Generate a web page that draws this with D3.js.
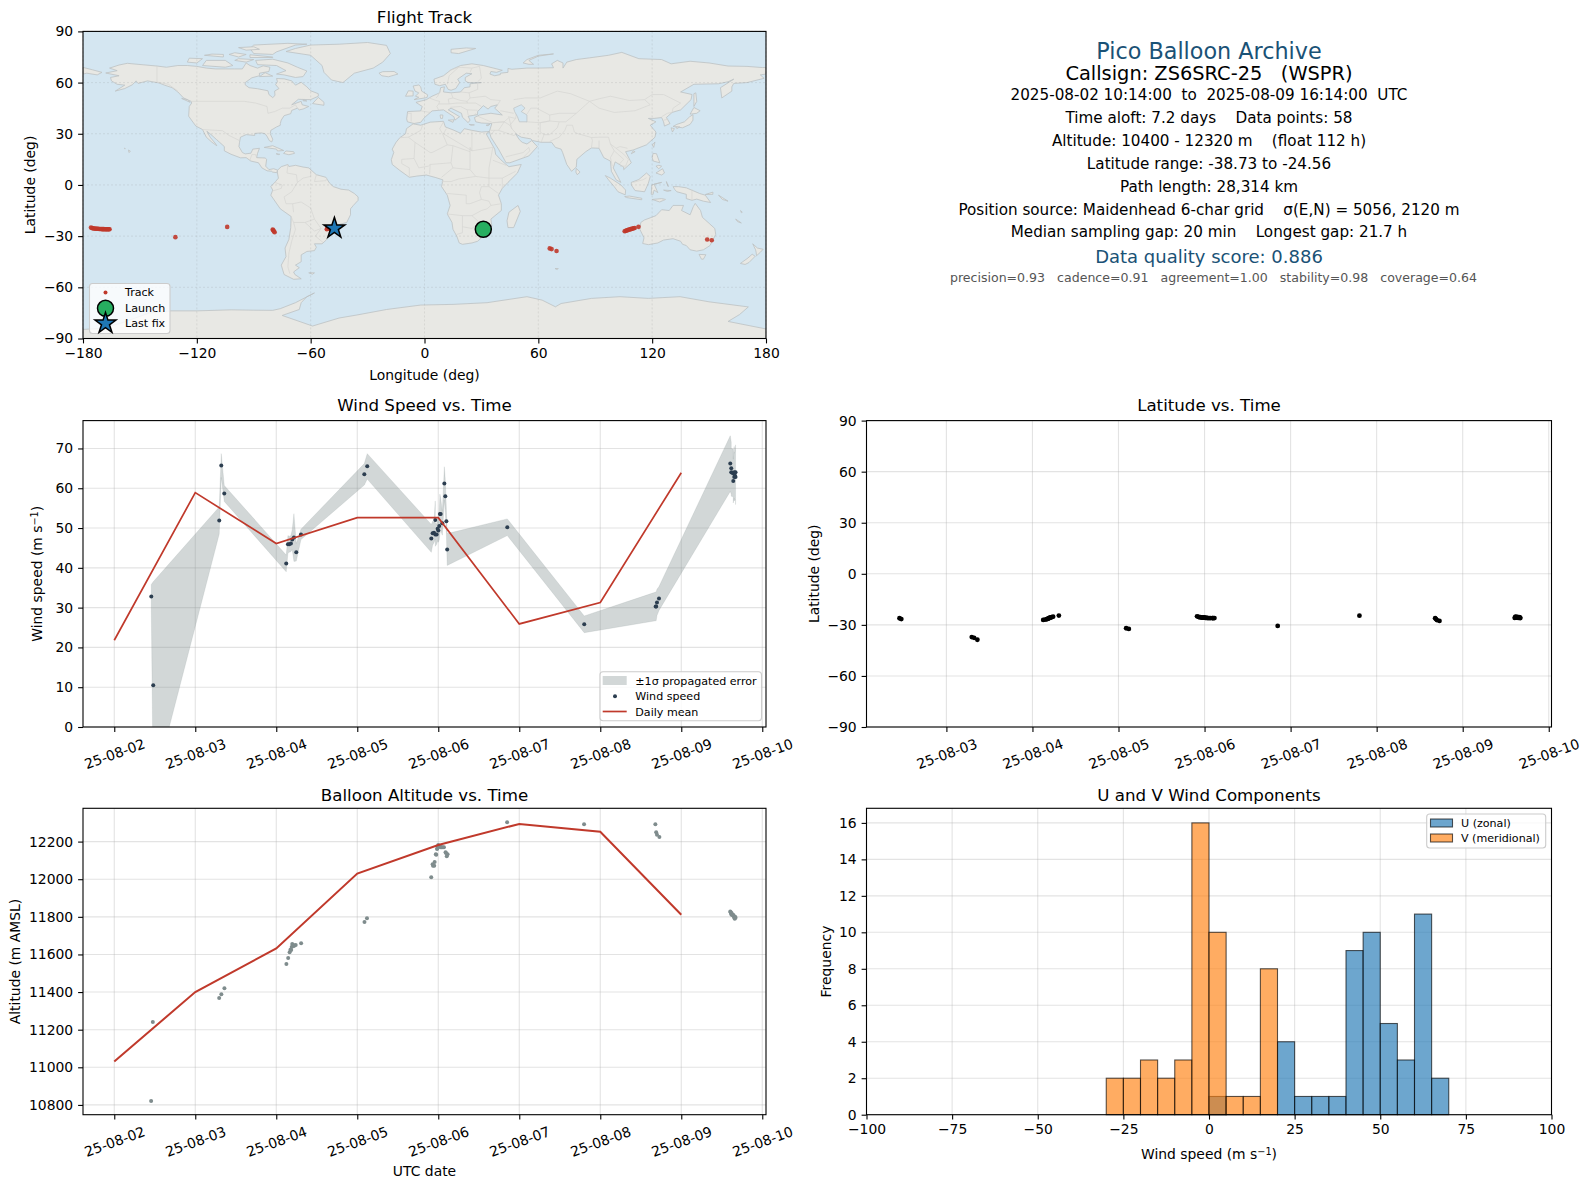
<!DOCTYPE html>
<html>
<head>
<meta charset="utf-8">
<script src="https://cdn.jsdelivr.net/npm/d3@7"></script>
<style>
html, body { margin: 0; padding: 0; background: #fff; }
svg { display: block; }
text { font-family: "DejaVu Sans", sans-serif; fill: #000; }
</style>
</head>
<body>
<svg id="chart" width="1589" height="1189"></svg>
<script>
// track fixes, days after 2025-08-02 00:00 UTC
const trackDays = [0.455,0.476,1.295,1.322,1.36,2.125,2.147,2.165,2.175,2.184,2.19,2.197,2.205,2.215,2.225,2.24,2.307,3.089,3.12,
  3.913,3.93,3.935,3.95,3.955,3.97,3.975,3.985,3.99,3.995,4.0,4.01,4.02,4.03,4.04,4.055,4.07,4.09,4.095,4.105,4.115,
  4.85,5.8,6.68,6.69,6.7,6.73,7.605,7.61,7.615,7.62,7.625,7.635,7.645,7.65,7.655,7.66,7.665,7.67];
const trackAlt = [10821,11241,11368,11389,11420,11549,11581,11612,11625,11623,11640,11655,11650,11645,11648,11650,11660,11772,11793,
  12011,12080,12071,12071,12092,12133,12130,12160,12165,12172,12182,12175,12175,12170,12170,12170,12170,12144,12140,12122,12133,
  12303,12292,12292,12250,12236,12224,11828,11825,11815,11820,11810,11812,11808,11800,11795,11790,11800,11795];
const trackLat = [-26.1,-26.6,-37.2,-37.6,-38.73,-27.1,-26.9,-26.7,-26.5,-26.3,-26.1,-25.9,-25.8,-25.6,-25.4,-25.2,-24.56,-32,-32.4,
  -25,-25.3,-25.4,-25.5,-25.6,-25.7,-25.7,-25.7,-25.8,-25.8,-25.8,-25.9,-25.9,-25.9,-26,-26,-26,-26,-26,-26,-26,
  -30.6,-24.6,-26.1,-26.6,-27.2,-27.7,-25.9,-25.5,-25.2,-25.4,-25.7,-25.3,-25.9,-25.6,-25.4,-25.9,-25.6,-26];
const trackLon = [31,32,66,67,69.6,105.5,106,106.6,107,107.6,108,108.6,109,109.6,110.2,110.8,112.8,149,151.4,
  -175.8,-175.2,-174.7,-174.2,-173.6,-173,-172.5,-172,-171.5,-171,-170.5,-170,-169.5,-169,-168.5,-168,-167.7,-167.2,-166.8,-166.4,-166,
  -131.3,-104,-80,-79.7,-79.4,-79,-51.5,-51.2,-50.8,-50.5,-50.1,-49.8,-49.4,-49.1,-48.8,-48.5,-48.2,-47.8];

// wind samples
const windDays = [0.457,0.481,1.296,1.321,1.358,2.123,2.144,2.16,2.181,2.197,2.218,2.247,2.305,3.087,3.123,
  3.914,3.93,3.947,3.963,3.963,3.98,3.992,4.0,4.012,4.02,4.03,4.05,4.075,4.087,4.1,4.11,
  4.852,5.802,6.684,6.69,6.7,6.725,
  7.605,7.617,7.617,7.63,7.642,7.642,7.654,7.654,7.662,7.67,7.67];
const windSpeed = [32.8,10.5,51.9,65.7,58.7,41.1,45.9,45.9,46.1,47.1,47.6,43.9,48.4,63.5,65.5,
  47.4,48.7,48.8,52,48.4,48.4,49.8,49.4,50.5,53.5,53.5,51.2,61.2,58,51.7,44.6,
  50.2,25.8,30.3,30.3,31.3,32.3,
  66.2,65,64,63.9,63.8,61.8,64,62.8,63.2,64,62.8];
const windErr = [3,26,3.4,3,2,2.1,2.2,2,2,2.5,6,2.2,1.3,2.7,3.2,
  3.5,3,2.5,4.8,3,2.5,3,3,3.5,5,4,3,4.2,4,3,4,
  2.1,2.1,3.6,3.6,3.3,3,
  7,6.5,6,6,6,5.5,6.5,6,6,6.9,6.9];

// daily means
const meanDays = [0,1,2,3,4,5,6,7];
const meanWind = [21.8,58.9,46.1,52.6,52.6,25.9,31.3,63.9];
const meanAlt = [11031,11400,11632,12030,12182,12294,12252,11811];

// histogram counts per 5 m/s bin
const binEdges = d3.range(-30, 75, 5);
const uCounts = [0,0,0,0,0,0,1,0,0,0,4,1,1,1,9,10,5,3,11,2];
const vCounts = [2,2,3,2,3,16,10,1,1,8,0,0,0,0,0,0,0,0,0,0];

// tick values
const lonTicks = [-180,-120,-60,0,60,120,180];
const latTicks = [-90,-60,-30,0,30,60,90];
const windTicks = [0,10,20,30,40,50,60,70];
const altTicks = [10800,11000,11200,11400,11600,11800,12000,12200];
const histXTicks = [-100,-75,-50,-25,0,25,50,75,100];
const histYTicks = [0,2,4,6,8,10,12,14,16];

// markers on the map
const launchPos = [31,-26];
const lastFixPos = [-47.5,-25.4];

// summary text
const summaryLines = [
  ["Pico Balloon Archive", 22.3, "#1a5276"],
  ["Callsign: ZS6SRC-25   (WSPR)", 19.4, "#000"],
  ["2025-08-02 10:14:00  to  2025-08-09 16:14:00  UTC", 15.2, "#000"],
  ["Time aloft: 7.2 days    Data points: 58", 15.2, "#000"],
  ["Altitude: 10400 - 12320 m    (float 112 h)", 15.2, "#000"],
  ["Latitude range: -38.73 to -24.56", 15.2, "#000"],
  ["Path length: 28,314 km", 15.2, "#000"],
  ["Position source: Maidenhead 6-char grid    σ(E,N) = 5056, 2120 m", 15.2, "#000"],
  ["Median sampling gap: 20 min    Longest gap: 21.7 h", 15.2, "#000"],
  ["Data quality score: 0.886", 18, "#1a5276"],
  ["precision=0.93   cadence=0.91   agreement=1.00   stability=0.98   coverage=0.64", 12.57, "#555"]
];
const summaryY = [50.7,73,94.2,117.6,140.9,163.2,186.5,209.8,232,256.4,277.7];
const summaryX = [1209,1209,1209,1209,1209,1209,1209,1209,1209,1209,1213.5];

// coastlines, lon/lat
const landPolygons = [
  // North America
  [[-156.6,71.3],[-152,70.8],[-148,70.4],[-141,69.7],[-136,69],[-130,70],[-125,70],[-120,69.5],[-115,68.5],[-110,68],[-105,68],[-100,68],[-96,68],[-94,71.5],[-92,70],[-88,68.5],[-85,69.8],[-81.5,69],[-82,66.5],[-87,65.5],[-87,64],[-91,62.8],[-94.5,60],[-94.5,58.7],[-92.5,57],[-88,56.4],[-82.5,55.2],[-82,53],[-80,51.2],[-78.8,52.5],[-79,55],[-76.7,56.5],[-78.5,58.8],[-77.5,60.5],[-78,62.4],[-74,62.2],[-70,61],[-68,58.5],[-65,60.2],[-62,57.5],[-60,55.2],[-56,53.5],[-56,52],[-60,50],[-66.5,50.2],[-70,47],[-65,49],[-64.5,47],[-61,46],[-64,44.5],[-66,44],[-67,45],[-70,43.7],[-70.5,41.8],[-74,40.6],[-75.5,38],[-76,36],[-76,35],[-78,34],[-81,32],[-81.3,30],[-80,26.8],[-80.5,25.2],[-81.8,26],[-83,28.5],[-84,30],[-86,30.5],[-89.5,30.2],[-89.5,29],[-94,29.5],[-97,28],[-97.5,25],[-97.8,22.5],[-96,19],[-94.5,18.2],[-91.5,18.6],[-90.5,21],[-87,21.5],[-88,18.5],[-88.5,16],[-84,15.8],[-83.2,15],[-83.7,11],[-82,9],[-79.5,9.5],[-77.4,8.7],[-77.9,7.2],[-80,7.5],[-80.5,8],[-83,8.3],[-85.7,10],[-87.5,13],[-91.5,14],[-94,16],[-97,15.9],[-102,18],[-105.5,20],[-105.5,22.5],[-108,25],[-109.5,26.5],[-112.5,29.5],[-114.7,31.5],[-113,28],[-110,24],[-109.5,23],[-112,25],[-115,28],[-117,32.5],[-120.5,34.5],[-122.5,37.5],[-124.3,40.3],[-124,46],[-122.7,48],[-123,49],[-127,51],[-130,54.5],[-133,57],[-137,58.5],[-140,59.8],[-146,61],[-151,59.5],[-152,61],[-154,58.7],[-158,56.5],[-163,55],[-158,58.5],[-162,59],[-165,61],[-165.5,63],[-161,64],[-168,65.6],[-162,67],[-166,68.5],[-161,70.3]],
  // South America
  [[-77.5,8.6],[-75.5,10.7],[-72,12],[-71.5,10.8],[-68,11.5],[-64,10.5],[-61,10],[-57,6],[-52,4.5],[-50,1],[-48,-1],[-44,-2.5],[-40,-3],[-37,-5],[-35,-7],[-35,-9],[-37.5,-12],[-39,-14],[-39,-17.5],[-41,-22],[-44.5,-23],[-48.5,-26],[-48.7,-28.5],[-52,-32.5],[-54,-34.5],[-58,-34.5],[-57,-36.5],[-58,-38.5],[-62,-39],[-65,-41],[-65,-45],[-68,-47],[-66,-48.5],[-69,-51],[-68.3,-52.5],[-65,-55],[-69,-55.3],[-74,-52.5],[-75.5,-47],[-73,-42],[-73.5,-37],[-71.5,-32],[-70.5,-25],[-70.3,-18.5],[-76,-14],[-81,-6],[-80,-3],[-81,-1],[-78.5,2],[-77,4],[-77.5,7]],
  // Africa
  [[-6,35.8],[-2,35],[3,36.8],[10,37.3],[11,34],[15,32.3],[19,30.3],[21,33],[25,32],[30,31],[32.5,31.2],[34.2,31.3],[32.5,30],[34,27],[37,21],[37.5,18],[40,15],[43,12],[44.5,10.7],[51,12],[49,7],[44,1.5],[41,-2],[39,-6],[40.5,-11],[40.5,-15],[35,-20],[35.5,-24],[32.8,-26],[32.5,-28.5],[28,-33],[25,-34],[20,-34.8],[18.3,-34],[17,-30],[15,-26],[14.5,-22],[12,-17],[13.5,-12],[12,-6],[9,-1],[9.7,3],[6,4.3],[1,5.8],[-4,5.2],[-8,4.5],[-13,8.5],[-17,12],[-17.5,14.8],[-16.2,19],[-17,21],[-15,25],[-13,27.7],[-10,30],[-9.5,33]],
  // Eurasia
  [[-9,37],[-9.4,38.7],[-8.9,43],[-2,43.4],[-1.2,46],[-4.5,48.4],[1,50],[4,52],[8,54],[8.5,57],[10.5,57.5],[10,54.5],[14,54],[19,54.5],[21,57],[24,57.5],[24,59.3],[30,60],[23,60],[21.5,61],[21.5,63],[25,65.2],[22,65.5],[17.5,62],[18.5,60],[16.5,56.5],[14,55.5],[12.5,56],[11,59],[8,58.2],[5.5,59],[5,62],[10,64],[14,67.5],[19,70],[25,71],[31,70],[41,67.2],[38,66],[35,66.5],[34.5,65],[37,64],[40,64.7],[40,65.5],[44,66],[44,68.3],[46,67.8],[54,68.5],[60,68.5],[68,68.7],[67,71],[70,73],[73,71.5],[73,68.5],[75,72],[80,73.5],[87,74.5],[97,76],[104,77.7],[113,74],[125,73.5],[130,71],[140,72.5],[150,71.5],[160,69.7],[170,69.5],[178,68.8],[180,68.9],[180,65],[177,64.5],[179,62.5],[170,60],[163,59.5],[162,57.5],[162,55],[156.7,51],[156,57],[163,62],[160,60.5],[155,59.3],[142,59],[135,54.5],[141,53],[140.5,50],[135,44],[130.5,42.5],[127.5,39.5],[129.4,36],[126.5,34.5],[126,37],[125,39.5],[121,39],[118,39],[122,37],[119,35],[122,31],[121.5,28],[117,23.5],[110,20.5],[106,19.5],[109,13],[105,9],[105,10.5],[100.5,13.5],[99.5,10],[103.5,1.5],[101,3],[98.5,8],[98,14],[94.5,16],[92,21.5],[88,21.7],[85,19.5],[80.3,15],[80,10.5],[77.5,8],[75,12],[72.8,19],[72,21],[69,22],[67,25],[61.5,25],[57,26],[56,27],[51,28],[48,30],[50,26.5],[51.5,25],[54,24],[56.5,26],[59.5,22.5],[55,17],[45,13],[43,13],[39,21],[35,28],[34.2,31.3],[35.5,36],[30,36.3],[27,37],[26.3,39.5],[29,41],[35,42],[41,41],[37,45],[38.5,47],[35,46],[33.5,44.5],[31,46.5],[28,43],[28,41.3],[26,40.8],[23,40.3],[24,38],[23,36.5],[20,39.7],[19.5,42],[14,45],[12.5,44],[18.5,40],[16,38],[15.5,40],[10,44],[4,43.4],[0,39.5],[-2,36.7],[-5.5,36]],
  // Chukotka past the date line
  [[-180,68.9],[-175,67.5],[-170,66],[-172.5,64.5],[-178,65.5],[-180,65]],
  // Greenland
  [[-73,78.2],[-68,80],[-60,82],[-45,82.5],[-30,83.5],[-20,81.8],[-18,77],[-22,72],[-27,68.5],[-37,65.5],[-43,60],[-49,61.5],[-53,66],[-54,70],[-60,76]],
  // Antarctica
  [[-180,-84.7],[-170,-84],[-160,-81],[-150,-77],[-145,-75],[-134,-73.8],[-120,-73.8],[-102,-73.2],[-90,-73.4],[-80,-73.5],[-76,-72.5],[-68,-69],[-58,-63.3],[-62,-65.5],[-65,-69],[-66,-73],[-75,-76.5],[-59,-82.7],[-45,-78],[-36,-76.3],[-20,-73],[-2,-70.4],[15,-70],[33,-69],[54,-65.5],[62,-67.5],[69,-71.4],[72,-69.5],[88,-66.5],[103,-65.5],[118,-66.5],[134.7,-65.5],[150,-68.5],[170.7,-71.5],[166,-76],[160,-80],[180,-84.4],[180,-90],[-180,-90]],
  // Australia and neighbours
  [[114,-22],[116,-20.5],[122,-18],[125,-14.5],[129,-15],[131,-12],[136.5,-12],[135.5,-15],[140,-17.5],[141.7,-12.7],[142.7,-10.8],[145.5,-15],[146.5,-19],[150,-22.5],[153,-25.5],[153.5,-29],[150.5,-35.5],[147,-38],[143.5,-38.8],[140,-38],[138,-35.5],[136,-34.8],[135,-33],[131,-31.5],[126,-32.3],[123,-34],[118,-35],[115,-34.3],[115.7,-31],[113.5,-26]],
  [[144.7,-40.7],[148.3,-40.9],[147,-43.5],[146,-43.5]],
  [[173,-34.5],[175.5,-37],[178.5,-37.7],[177,-39.5],[175,-41.5],[174.8,-39.5],[174.5,-38]],
  [[172.7,-40.6],[174.3,-41.8],[171,-45.5],[169,-46.6],[166.5,-46],[170.5,-42.8]],
  [[131,-1],[134,-1],[138,-1.7],[145,-5],[148,-6],[150.8,-10.3],[147,-9.5],[143.5,-8.3],[141,-9],[138,-8],[138,-5.5],[133,-4],[132,-2.8]],
  // Southeast Asia
  [[109,1.5],[113,3.2],[117,7],[119,5],[118,1],[116,-4],[111,-3.3],[109,0]],
  [[95.3,5.5],[98,4],[103.5,0],[106,-3],[105.8,-5.8],[102,-4],[100,-1],[97,3]],
  [[105.5,-6.8],[108,-6.5],[114.5,-7.8],[114.5,-8.7],[106.5,-7.4]],
  [[119.5,-5.5],[119.8,0],[125,1.5],[121,0.5],[123,-4.5],[121,-3],[120.5,-5.5]],
  [[120.5,18.5],[122.3,18.3],[124,13],[120.6,14],[120,16]],
  [[122,7],[125.5,9.5],[126.5,7],[125,5.8]],
  [[122,11],[123.5,11.5],[125,11],[123.5,9.5]],
  [[120,-8.5],[125,-8],[127,-8.5],[124,-10]],
  [[127.5,2],[128.5,-1],[127.7,1]],
  [[126,-3],[130,-3.3],[128,-3.8]],
  [[148,-5.6],[152,-4.2],[152,-5.5]],
  [[155,-6],[160,-9.5],[157,-8.5]],
  [[164,-20],[167,-22.3],[165,-21.5]],
  [[166.6,-15],[167.5,-16],[167,-16.3]],
  [[80,9.7],[82,7.5],[80.5,6],[79.8,7.5]],
  [[121.5,25.2],[120.8,22],[120.1,23.5]],
  [[110,20],[111,19.5],[109,18.3]],
  // Japan and Sakhalin
  [[131,34.3],[136,33.5],[140,35.5],[141.5,38],[141.5,41.2],[139.8,40],[137,37],[133,35.5]],
  [[140,41.5],[143.5,42],[145.3,43.5],[142,45.4]],
  [[130,33.5],[131.7,33],[130.7,31]],
  [[132.5,34],[134.5,34],[133,33]],
  [[142,46],[143.5,49],[143,54],[142,53.5],[142,49]],
  // Atlantic and Europe islands
  [[-24,65.5],[-22,66.4],[-16,66.5],[-14,65],[-19,63.4],[-22.5,64]],
  [[-5.5,50],[1.3,51.2],[1.7,52.8],[-1.5,55],[-2,57.5],[-3,58.6],[-6,58],[-5,55],[-3,54],[-4.8,52],[-3,51.4]],
  [[-10,52],[-6,52.2],[-6,55],[-8.5,55.2]],
  [[12.5,38],[15.5,38.2],[15,36.7]],
  [[8.2,41],[9.7,41],[9.5,39],[8.5,39]],
  [[23.5,35.5],[26.3,35.2],[24.5,35]],
  [[32.5,35],[34.5,35.6],[33.5,34.7]],
  [[14,79.5],[22,80.3],[27,80],[18,77],[14,77.5]],
  [[52,71.5],[55,70.7],[57.5,70.7],[55,73],[60,75.5],[68,76.8],[60,76],[54,73.5]],
  [[49.3,-12],[50.5,-15.5],[47,-25],[44,-25],[43.5,-21],[44.5,-16]],
  // Canadian Arctic
  [[-80,73.7],[-72,71.5],[-67,69],[-62,66.8],[-64,63.5],[-68,63],[-74,64.5],[-78,65],[-73,67],[-78,70],[-88,70.5],[-89,73]],
  [[-117,70],[-105,69],[-101,70],[-105,73],[-115,73]],
  [[-125,72],[-120,71.5],[-117,74],[-124,74.3]],
  [[-90,77],[-80,76.5],[-78,78],[-68,82],[-62,82.5],[-72,83],[-90,82],[-92,80]],
  [[-92,76.3],[-80,75],[-80,74.7],[-92,74.7]],
  [[-116,76],[-106,75],[-106,76.5],[-112,76.7]],
  [[-98,80.5],[-94,79],[-87,79.5],[-90,81]],
  [[-103,76.5],[-98,75],[-94,76.5],[-100,77.5]],
  [[-98,74],[-90,73.5],[-94,72],[-100,73]],
  [[-87,63.5],[-80,63.8],[-84,65.8]],
  [[-59,47.7],[-53,46.7],[-53,48.5],[-56,51.3]],
  [[-128,50.7],[-123.5,48.4],[-125,50]],
  [[-64,49.9],[-62,49.2],[-64,49.3]],
  // Caribbean and small ones
  [[-84.5,22],[-80,23],[-74.2,20.2],[-77.5,19.9],[-78,21]],
  [[-74.3,18.5],[-73,19.9],[-69,19.5],[-68.5,18.5],[-71.5,17.7]],
  [[-78.2,18.3],[-76.3,18],[-77,17.8]],
  [[-156,20.5],[-155,19.7],[-155.8,19]],
  [[-158.2,21.6],[-157.7,21.3],[-158,21.2]],
  [[-61,-51.5],[-58,-51.5],[-59,-52.3]],
  [[68.8,-49],[70.5,-49],[70,-49.6]]
];

// inland water drawn back over land
const lakes = [
  [[47,45],[51,47],[53,45],[51,43],[54,41],[54,37],[50,37],[49,40],[47.5,43]]
];

// country borders, lon/lat
const borderLines = [
  [[-141,69.7],[-141,60.3],[-135,59],[-130,55]],
  [[-123,49],[-95,49],[-89,48],[-83,46],[-82.5,42],[-79,43],[-75,45],[-71,45],[-68,47],[-67,45]],
  [[-117,32.5],[-106.5,31.8],[-103,29],[-97.5,26]],
  [[-92,14.5],[-91,17.8],[-89,17.8],[-88.5,16]],
  [[-72,12],[-72.5,7],[-67.5,6],[-67,1.5],[-70,-4],[-74,-7],[-73,-11],[-69.5,-11],[-65,-10],[-60,-13.5],[-58,-20],[-54.5,-25.5],[-57.5,-30],[-53.5,-33.7]],
  [[-60,8.5],[-60,5],[-64,4],[-67,1.5]],
  [[-57,6],[-58,2],[-52,2.5],[-51.5,4.2]],
  [[-79,1.5],[-75,0],[-75.5,-2],[-80,-3.5]],
  [[-70.3,-18.5],[-69,-22],[-68,-26],[-70,-33],[-71.5,-40],[-72,-48],[-71,-52]],
  [[-69,-16],[-69.5,-11]],
  [[-69,-22],[-63,-22],[-58,-20]],
  [[-63,-22],[-58,-27],[-54.5,-25.5]],
  [[-1,35],[-2,32],[-8.5,28],[-13,27.7]],
  [[-8.5,28],[-5,25],[3,19],[4,19],[12,23.5],[15,23],[24,19.5],[24,22],[25,20],[36,22]],
  [[10,37],[8,33],[9.5,30],[12,23.5]],
  [[11.5,33],[10,30],[25,20]],
  [[25,32],[25,20]],
  [[-12,15],[-5.5,15.5],[-5,25]],
  [[-12,15],[-12,12.5],[-8,10],[-8,5]],
  [[-5.5,15.5],[-3,10],[2,11],[3,12],[14,13],[15,23]],
  [[3,12],[2.7,6.3]],
  [[14,13],[15,10],[9,4.5]],
  [[15,10],[24,9],[27,5],[34,4],[41,4],[48,8]],
  [[24,19.5],[24,9]],
  [[36,22],[34,10],[34,4]],
  [[43,11.5],[36,14.5]],
  [[41,4],[41,-2]],
  [[34,4],[34,-1],[30,-1],[29,-4.5],[30,-8.5],[34,-9.5],[35,-12]],
  [[34,-1],[39,-5]],
  [[40.5,-11],[35,-12],[33,-14],[30,-15],[25,-18],[20,-18],[12,-17]],
  [[12,-5],[22,-6],[22,-11],[24,-11],[30,-8.5]],
  [[9,2],[14,2],[18,3.5],[27,5]],
  [[20,-18],[20,-28],[17,-29]],
  [[25,-18],[29,-22],[32,-22],[32,-26]],
  [[20,-24.5],[25,-25.5],[29,-22]],
  [[-1.8,43.4],[3,42.5]],
  [[-9,42],[-7,42],[-7,37.2]],
  [[2.5,51],[6,49.5],[8,49],[7.5,47.5],[6.5,46],[7.5,43.8]],
  [[8,54.8],[7,52],[6,51]],
  [[14,54],[15,51],[12.5,50.3],[13,47.5],[7.5,47.5]],
  [[15,51],[19,49.5],[22.5,49],[24,51],[23.5,54],[19,54.5]],
  [[13,47.5],[17,48],[22.5,48],[22.5,49]],
  [[13.5,45.5],[19,46],[22.5,44],[23,41]],
  [[22.5,48],[27,48],[30,46]],
  [[22.5,44],[28,43.8]],
  [[24,51],[32,52],[35,50],[40,49.5],[38.5,47]],
  [[23.5,54],[28,56],[28,59.5]],
  [[13,67],[18,69],[25,68.5],[29,69.5]],
  [[12,59],[13,64],[18,69]],
  [[25,68.5],[24,66]],
  [[29,69.5],[30,62.5],[28,60.5]],
  [[47,42],[40,43.5]],
  [[44,40],[48,39],[48.5,41.8]],
  [[27,42],[26.5,41],[36,36.5],[42,37],[44.5,39.5]],
  [[36,36.5],[42,37],[45,35],[46,33],[48.5,30]],
  [[35,32],[39,32],[42,37]],
  [[39,32],[47,29],[48,29.5]],
  [[35,29.5],[37,32]],
  [[42.8,16.5],[52,19],[55,22],[55.5,20],[52,16]],
  [[45,35],[48,39]],
  [[44.5,39.5],[46,33]],
  [[53.5,37],[61,36.5],[61,31],[63,29.5],[61.5,25]],
  [[61,36.5],[66,37.5],[71,37],[74.5,37]],
  [[63,29.5],[66,29.5],[70,33.5],[71,37]],
  [[66,25.5],[71,28],[74,32],[75,35],[78,35]],
  [[78,35],[79,31],[81,30],[88,27.8],[92,28],[97,28],[98,24],[101,21.5],[103,22.5],[107,21.5]],
  [[88,27.8],[88.5,26],[88,22]],
  [[92,26],[92,21.5]],
  [[98,24],[100,20],[98,16],[99,11]],
  [[101,21.5],[105,18],[107.5,15],[106,11],[103,11]],
  [[100,20],[102,18],[105,15],[102.5,12]],
  [[47,50],[53,51],[61,51],[70,55],[77,53.5],[87,49]],
  [[87,49],[92,45],[100,42.5],[111,43.5],[119,47],[116,50],[108,49.5],[98,52],[92,50.5],[87,49]],
  [[74.5,37],[80,42],[85,47],[87,49]],
  [[116,50],[120,53],[126,53],[135,48],[131,45],[130.5,42.5]],
  [[54,41.5],[56,45],[59,45],[66,41],[71,42],[80,42]],
  [[61,36.5],[66,37.5],[66,41]],
  [[125,40],[128,42],[130.5,42.5]],
  [[126,38],[128.5,38.5]],
  [[141,-2.5],[141,-9]],
  [[110,1.5],[115,3],[117,4.2]],
  [[125,-9],[127,-8.5]]
];

const fig = d3.select("#chart");
const sans = "DejaVu Sans";

const toDate = d => new Date(Date.UTC(2025, 7, 2) + d * 864e5);

// panel frames, px
const mapBox = {l: 83, r: 766, t: 31.4, b: 338.5};
const windBox = {l: 83, r: 766, t: 420.6, b: 727};
const latBox = {l: 866.5, r: 1551.5, t: 420.6, b: 727};
const altBox = {l: 83, r: 766, t: 808.3, b: 1114.7};
const histBox = {l: 866.5, r: 1551.5, t: 808.3, b: 1114.7};

const timeFormat = d3.utcFormat("%y-%m-%d");

const xLeft = box => d3.scaleUtc().domain([toDate(-0.386), toDate(8.046)]).range([box.l, box.r]);
const xRight = box => d3.scaleUtc().domain([toDate(0.0715), toDate(8.032)]).range([box.l, box.r]);

let clipCount = 0;
const panel = (box, title, titleGap, bg) => {
    const g = fig.append("g");
    g.append("rect").attr("x", box.l).attr("y", box.t)
        .attr("width", box.r - box.l).attr("height", box.b - box.t)
        .attr("fill", bg || "#fff");
    const id = "clip" + (clipCount++);
    fig.append("clipPath").attr("id", id).append("rect")
        .attr("x", box.l).attr("y", box.t)
        .attr("width", box.r - box.l).attr("height", box.b - box.t);
    g.clip = "url(#" + id + ")";
    fig.append("text").attr("x", (box.l + box.r) / 2).attr("y", box.t - titleGap)
        .attr("text-anchor", "middle").attr("font-size", 16.67).text(title);
    return g;
};

const grid = (g, box, x, y, xTicks, yTicks, opts) => {
    const o = Object.assign({color: "#b0b0b0", opacity: 0.35, width: 1.1, dash: null}, opts);
    const lines = g.append("g").attr("stroke", o.color).attr("stroke-opacity", o.opacity)
        .attr("stroke-width", o.width).attr("stroke-dasharray", o.dash);
    xTicks.forEach(t => lines.append("line").attr("x1", x(t)).attr("x2", x(t)).attr("y1", box.t).attr("y2", box.b));
    yTicks.forEach(t => lines.append("line").attr("y1", y(t)).attr("y2", y(t)).attr("x1", box.l).attr("x2", box.r));
};

const frame = (box) => {
    fig.append("rect").attr("x", box.l).attr("y", box.t)
        .attr("width", box.r - box.l).attr("height", box.b - box.t)
        .attr("fill", "none").attr("stroke", "#000").attr("stroke-width", 1.1);
};

const styleAxis = sel => {
    sel.select(".domain").remove();
    sel.selectAll("line").attr("stroke", "#000").attr("stroke-width", 1.1);
    sel.selectAll("text").attr("font-family", sans).attr("font-size", 13.9).attr("fill", "#000");
};

const bottomAxis = (box, x, ticks, fmt) => {
    const a = d3.axisBottom(x).tickValues(ticks).tickSize(4.9).tickPadding(4.9);
    if (fmt) a.tickFormat(fmt);
    fig.append("g").attr("transform", "translate(0," + box.b + ")").call(a).call(styleAxis);
};

const dateAxis = (box, x, ticks) => {
    const a = d3.axisBottom(x).tickValues(ticks).tickSize(4.9).tickFormat(timeFormat);
    fig.append("g").attr("transform", "translate(0," + box.b + ")").call(a).call(styleAxis)
        .selectAll("text")
        .attr("y", 0).attr("dy", "0.35em")
        .attr("transform", "translate(0,27) rotate(-20)");
};

const leftAxis = (y, box, ticks) => {
    const a = d3.axisLeft(y).tickValues(ticks).tickSize(4.9).tickPadding(4.9).tickFormat(d3.format("d"));
    fig.append("g").attr("transform", "translate(" + box.l + ",0)").call(a).call(styleAxis);
};

const yLabel = (x, y, text) => fig.append("text")
    .attr("transform", "translate(" + x + "," + y + ") rotate(-90)")
    .attr("text-anchor", "middle").attr("font-size", 13.9).text(text);

const xLabel = (x, y, text) => fig.append("text")
    .attr("x", x).attr("y", y).attr("text-anchor", "middle").attr("dy", "0.35em")
    .attr("font-size", 13.9).text(text);

const addUnit = sel => {
    sel.append("tspan").text("m s");
    sel.append("tspan").attr("dy", "-0.4em").attr("font-size", 9.7).text("−1");
    sel.append("tspan").attr("dy", "0.28em").text(")");
};

const legendBox = (x, y, w, h) => {
    fig.append("rect").attr("x", x).attr("y", y).attr("width", w).attr("height", h).attr("rx", 3)
        .attr("fill", "#fff").attr("fill-opacity", 0.8).attr("stroke", "#ccc").attr("stroke-width", 1.1);
};
const legendText = (x, y, t) => fig.append("text").attr("x", x).attr("y", y).attr("dy", "0.35em")
    .attr("font-size", 11.1).attr("fill", "#000").text(t);

const curve = (x, y) => d3.line().x(d => x(d[0])).y(d => y(d[1]));

const dateTicks = (from, to) => d3.range(from, to + 1).map(toDate);

// ---------- flight track map
{
    const box = mapBox;
    const g = panel(box, "Flight Track", 8, "#d4e6f1");
    const x = d3.scaleLinear().domain([-180, 180]).range([box.l, box.r]);
    const y = d3.scaleLinear().domain([-90, 90]).range([box.b, box.t]);
    const geo = d3.line().x(d => x(d[0])).y(d => y(d[1]));
    const land = g.append("g").attr("clip-path", g.clip);
    land.selectAll("path.land").data(landPolygons).join("path")
        .attr("class", "land")
        .attr("d", d => geo(d) + "Z")
        .attr("fill", "#e8e8e4").attr("stroke", "#bcc1c3").attr("stroke-width", 0.8);
    land.selectAll("path.border").data(borderLines).join("path")
        .attr("class", "border")
        .attr("d", geo).attr("fill", "none")
        .attr("stroke", "#d6d6d2").attr("stroke-width", 0.7);
    land.selectAll("path.lake").data(lakes).join("path")
        .attr("class", "lake")
        .attr("d", d => geo(d) + "Z")
        .attr("fill", "#d4e6f1").attr("stroke", "#bcc1c3").attr("stroke-width", 0.7);
    grid(g, box, x, y, lonTicks, latTicks, {color: "#888", opacity: 0.25, width: 0.7, dash: "2,2"});

    g.append("g").attr("clip-path", g.clip).selectAll("circle").data(trackLon).join("circle")
        .attr("cx", d => x(d)).attr("cy", (d, i) => y(trackLat[i])).attr("r", 2.3)
        .attr("fill", "#c0392b").attr("fill-opacity", 0.9);

    g.append("circle").attr("cx", x(launchPos[0])).attr("cy", y(launchPos[1])).attr("r", 8)
        .attr("fill", "#27ae60").attr("stroke", "#000").attr("stroke-width", 1.5);
    const star = d3.symbol(d3.symbolStar, 135);
    g.append("path").attr("d", star()).attr("transform", "translate(" + x(lastFixPos[0]) + "," + y(lastFixPos[1]) + ")")
        .attr("fill", "#1f77b4").attr("stroke", "#000").attr("stroke-width", 1.5);

    frame(box);
    bottomAxis(box, x, lonTicks, d3.format("d"));
    leftAxis(y, box, latTicks);
    xLabel((box.l + box.r) / 2, 375, "Longitude (deg)");
    yLabel(35, (box.t + box.b) / 2, "Latitude (deg)");

    legendBox(89.5, 283.5, 80.5, 50);
    fig.append("circle").attr("cx", 105.5).attr("cy", 292.5).attr("r", 2).attr("fill", "#c0392b");
    fig.append("circle").attr("cx", 105.5).attr("cy", 308.3).attr("r", 8)
        .attr("fill", "#27ae60").attr("stroke", "#000").attr("stroke-width", 1.5);
    fig.append("path").attr("d", star()).attr("transform", "translate(105.5,323.5)")
        .attr("fill", "#1f77b4").attr("stroke", "#000").attr("stroke-width", 1.5);
    legendText(125, 292.5, "Track");
    legendText(125, 308.3, "Launch");
    legendText(125, 323.5, "Last fix");
}

// ---------- summary block
fig.selectAll("text.summary").data(summaryLines).join("text")
    .attr("class", "summary")
    .attr("x", (d, i) => summaryX[i]).attr("y", (d, i) => summaryY[i]).attr("dy", "0.35em")
    .attr("text-anchor", "middle").attr("xml:space", "preserve").style("white-space", "pre")
    .attr("font-size", d => d[1]).style("fill", d => d[2])
    .text(d => d[0]);

// ---------- wind speed
{
    const box = windBox;
    const g = panel(box, "Wind Speed vs. Time", 10);
    const x = xLeft(box);
    const y = d3.scaleLinear().domain([0, 77]).range([box.b, box.t]);
    const ticks = dateTicks(0, 8);
    grid(g, box, x, y, ticks, windTicks);
    const band = d3.area().x((d, i) => x(toDate(d))).y0((d, i) => y(windSpeed[i] - windErr[i])).y1((d, i) => y(windSpeed[i] + windErr[i]));
    g.append("path").datum(windDays).attr("clip-path", g.clip).attr("d", band)
        .attr("fill", "#7f8c8d").attr("fill-opacity", 0.35).attr("stroke", "#7f8c8d").attr("stroke-opacity", 0.15);
    g.append("g").selectAll("circle").data(windDays).join("circle")
        .attr("cx", d => x(toDate(d))).attr("cy", (d, i) => y(windSpeed[i])).attr("r", 2)
        .attr("fill", "#2c3e50");
    g.append("path").datum(meanDays.map((d, i) => [toDate(d), meanWind[i]]))
        .attr("d", curve(x, y)).attr("fill", "none").attr("stroke", "#c0392b").attr("stroke-width", 1.7);
    frame(box);
    dateAxis(box, x, ticks);
    leftAxis(y, box, windTicks);
    yLabel(42, (box.t + box.b) / 2, "Wind speed (").call(addUnit);

    legendBox(600, 671.7, 161.5, 49);
    fig.append("rect").attr("x", 602.7).attr("y", 676).attr("width", 24).attr("height", 9)
        .attr("fill", "#7f8c8d").attr("fill-opacity", 0.35);
    fig.append("circle").attr("cx", 615).attr("cy", 696.3).attr("r", 2).attr("fill", "#2c3e50");
    fig.append("line").attr("x1", 602.7).attr("x2", 626.7).attr("y1", 711.5).attr("y2", 711.5)
        .attr("stroke", "#c0392b").attr("stroke-width", 1.7);
    legendText(635.3, 681, "±1σ propagated error");
    legendText(635.3, 696.3, "Wind speed");
    legendText(635.3, 711.7, "Daily mean");
}

// ---------- latitude
{
    const box = latBox;
    const g = panel(box, "Latitude vs. Time", 10);
    const x = xRight(box);
    const y = d3.scaleLinear().domain([-90, 90]).range([box.b, box.t]);
    const ticks = dateTicks(1, 8);
    grid(g, box, x, y, ticks, latTicks);
    g.append("g").selectAll("circle").data(trackDays).join("circle")
        .attr("cx", d => x(toDate(d))).attr("cy", (d, i) => y(trackLat[i])).attr("r", 2.4)
        .attr("fill", "#000");
    frame(box);
    dateAxis(box, x, ticks);
    leftAxis(y, box, latTicks);
    yLabel(819, (box.t + box.b) / 2, "Latitude (deg)");
}

// ---------- altitude
{
    const box = altBox;
    const g = panel(box, "Balloon Altitude vs. Time", 7);
    const x = xLeft(box);
    const y = d3.scaleLinear().domain([10748, 12377]).range([box.b, box.t]);
    const ticks = dateTicks(0, 8);
    grid(g, box, x, y, ticks, altTicks);
    g.append("g").selectAll("circle").data(trackDays).join("circle")
        .attr("cx", d => x(toDate(d))).attr("cy", (d, i) => y(trackAlt[i])).attr("r", 2)
        .attr("fill", "#7f8c8d");
    g.append("path").datum(meanDays.map((d, i) => [toDate(d), meanAlt[i]]))
        .attr("d", curve(x, y)).attr("fill", "none").attr("stroke", "#c0392b").attr("stroke-width", 2);
    frame(box);
    dateAxis(box, x, ticks);
    leftAxis(y, box, altTicks);
    yLabel(20, (box.t + box.b) / 2, "Altitude (m AMSL)");
    xLabel((box.l + box.r) / 2, 1171.5, "UTC date");
}

// ---------- U / V histogram
{
    const box = histBox;
    const g = panel(box, "U and V Wind Components", 7);
    const x = d3.scaleLinear().domain([-100, 100]).range([box.l, box.r]);
    const y = d3.scaleLinear().domain([0, 16.8]).range([box.b, box.t]);
    grid(g, box, x, y, histXTicks, histYTicks);
    const bars = (counts, color) => g.append("g").selectAll("rect")
        .data(counts.map((c, i) => ({c, i})).filter(d => d.c > 0)).join("rect")
        .attr("x", d => x(binEdges[d.i])).attr("width", d => x(binEdges[d.i + 1]) - x(binEdges[d.i]))
        .attr("y", d => y(d.c)).attr("height", d => y(0) - y(d.c))
        .attr("fill", color).attr("fill-opacity", 0.65)
        .attr("stroke", "#000").attr("stroke-opacity", 0.65).attr("stroke-width", 1.1);
    bars(uCounts, "#1f77b4");
    bars(vCounts, "#ff7f0e");
    frame(box);
    bottomAxis(box, x, histXTicks, d3.format("d"));
    leftAxis(y, box, histYTicks);
    xLabel((box.l + box.r) / 2, 1154, "Wind speed (").call(addUnit);
    yLabel(831, (box.t + box.b) / 2, "Frequency");

    legendBox(1426.7, 814, 119, 34);
    [["#1f77b4", 819, "U (zonal)", 824], ["#ff7f0e", 834, "V (meridional)", 839]].forEach(r => {
        fig.append("rect").attr("x", 1430.5).attr("y", r[1]).attr("width", 22).attr("height", 8)
            .attr("fill", r[0]).attr("fill-opacity", 0.65)
            .attr("stroke", "#000").attr("stroke-opacity", 0.65).attr("stroke-width", 1.1);
        legendText(1461, r[3] - 1, r[2]);
    });
}
</script>
</body>
</html>
